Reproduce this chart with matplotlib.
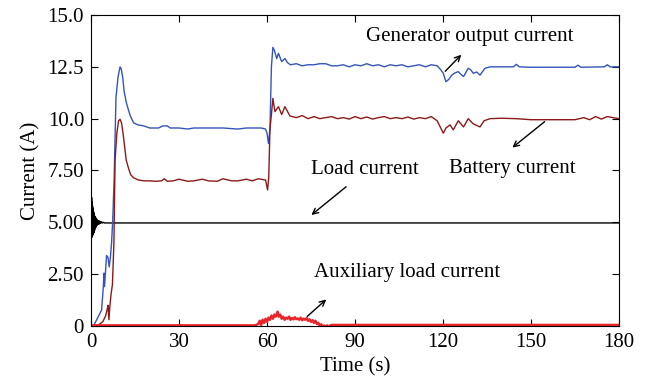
import numpy as np
import matplotlib
matplotlib.use("Agg")
import matplotlib.pyplot as plt

plt.rcParams['font.family'] = ['Liberation Serif', 'DejaVu Serif']

# generator output current (blue)
gen_t = [0, 1, 1.9, 3, 3.6, 4.2, 4.4, 4.6, 5.3, 5.8, 6.2, 6.6, 7.0, 7.4, 7.9, 8.5, 9.2, 9.9,
         10.3, 10.8, 11.3, 12, 12.8, 13.5, 14.5, 16, 18, 20, 23, 24.5, 26, 27, 30, 33, 35, 40,
         45, 50, 53, 55, 58, 59.5, 60, 60.5, 61, 61.5, 62, 62.5, 63.3, 63.9, 65, 66.1, 67,
         68, 70, 72, 74, 76, 78, 80, 82, 84, 86, 88, 90, 92, 94, 96, 98, 100, 102, 104, 106,
         108, 110, 112, 114, 116, 118, 119, 120.1, 121, 122, 123, 124, 125.2, 126, 127, 128.6,
         129.5, 130.3, 131.5, 132.6, 134.3, 136, 140, 144, 145, 146, 150, 160, 165, 166, 167,
         175, 176, 177, 180]
gen_i = [0, 0.05, 0.29, 0.6, 0.77, 1.9, 2.55, 1.9, 3.4, 3.3, 2.85, 3.3, 4.0, 5.1, 7.2, 11.0,
         12.0, 12.5, 12.4, 12.0, 11.3, 10.8, 10.4, 10.1, 9.8, 9.7, 9.65, 9.55, 9.55, 9.65, 9.65,
         9.55, 9.55, 9.5, 9.55, 9.55, 9.55, 9.5, 9.55, 9.55, 9.55, 9.5, 9.3, 8.8, 9.5, 12.5,
         13.44, 13.3, 12.9, 13.15, 12.75, 12.9, 12.7, 12.6, 12.65, 12.55, 12.6, 12.6, 12.65,
         12.65, 12.55, 12.55, 12.6, 12.5, 12.6, 12.55, 12.65, 12.55, 12.6, 12.5, 12.6, 12.55,
         12.6, 12.5, 12.55, 12.6, 12.5, 12.6, 12.55, 12.4, 12.19, 11.78, 11.9, 12.1, 12.2, 12.27,
         12.15, 12.03, 12.43, 12.35, 12.19, 12.25, 12.1, 12.43, 12.5, 12.5, 12.5, 12.62, 12.5,
         12.48, 12.48, 12.48, 12.58, 12.48, 12.5, 12.6, 12.5, 12.5]

# battery current (dark red)
bat_t = [0, 1, 2, 3, 4, 5, 5.5, 5.8, 6.1, 6.4, 6.8, 7.3, 7.8, 8.2, 8.8, 9.4, 9.9, 10.4, 11,
         11.5, 12, 12.8, 13.5, 14.5, 16, 18, 20, 22, 24, 25, 26, 28, 30, 33, 35, 38, 40, 43,
         45, 48, 50, 53, 55, 57, 59.5, 60.2, 60.6, 61, 61.5, 62, 62.7, 63.9, 65, 66.1, 67.8,
         70, 72, 74, 76, 78, 80, 82, 84, 86, 88, 90, 92, 94, 96, 98, 100, 102, 104, 106, 108,
         110, 112, 114, 116, 118, 120.1, 121, 122.4, 123.5, 125.2, 127, 128.6, 130.3, 132.6,
         134, 136, 140, 145, 150, 155, 160, 165, 168, 170, 172, 174, 176, 178, 180]
bat_i = [0, 0, 0.02, 0.1, 0.2, 0.5, 0.8, 1.0, 0.3, 0.9, 1.5, 2.0, 4.0, 8.0, 9.3, 9.9, 9.97,
         9.8, 9.2, 8.6, 8.0, 7.6, 7.3, 7.15, 7.05, 7.0, 7.0, 6.98, 7.0, 7.1, 6.98, 7.0, 7.08,
         6.98, 7.0, 7.08, 7.0, 6.98, 7.1, 7.0, 7.0, 7.08, 7.0, 7.1, 7.04, 6.56, 7.2, 9.5, 10.2,
         10.98, 10.34, 10.58, 10.2, 10.58, 10.13, 10.05, 10.15, 10.0, 10.1, 10.0, 10.05, 10.1,
         10.0, 10.05, 9.98, 10.1, 10.0, 10.08, 9.98, 10.05, 10.1, 10.0, 10.05, 10.0, 10.08,
         9.98, 10.05, 10.0, 10.1, 9.9, 9.3, 9.55, 9.7, 9.46, 9.9, 9.6, 10.0, 9.75, 9.6, 9.9,
         10.0, 10.02, 10.0, 9.95, 9.95, 9.95, 9.95, 10.05, 9.95, 10.1, 9.98, 10.1, 10.05, 10.0]

# load current (black)
load_t = [0, 0.05, 0.1, 0.15, 0.2, 0.25, 0.3, 0.35, 0.4, 0.45, 0.5, 0.55, 0.6, 0.65, 0.7,
          0.8, 0.9, 1.0, 1.1, 1.2, 1.3, 1.4, 1.5, 1.6, 1.7, 1.8, 1.9, 2.0, 2.2, 2.4, 2.6, 2.8,
          3.0, 3.3, 3.6, 3.9, 4.2, 4.6, 5.0, 180]
load_i = [6.8, 4.4, 6.5, 4.5, 6.2, 4.4, 6.0, 4.3, 5.9, 4.3, 5.8, 4.4, 5.7, 4.4, 5.6, 4.5,
          5.5, 4.5, 5.4, 4.6, 5.3, 4.7, 5.25, 4.75, 5.2, 4.8, 5.15, 4.85, 5.1, 4.9, 5.08, 4.92,
          5.05, 4.95, 5.03, 4.97, 5.0, 4.97, 4.97, 4.97]

# auxiliary load current (bright red)
aux_t = [0, 56, 57, 57.5, 58, 58.5, 59, 59.5, 60, 60.5, 61, 61.5, 62, 62.5, 63, 63.6, 64,
         64.5, 65, 65.5, 66, 66.5, 67, 67.5, 68, 68.5, 69, 69.5, 70, 70.5, 71, 71.5, 72, 72.5,
         73, 73.5, 74, 74.5, 75, 75.5, 76, 76.5, 77, 77.5, 78, 78.5, 79, 79.5, 80, 80.5, 81,
         81.5, 82, 180]
aux_i = [0.03, 0.03, 0.1, 0.25, 0.05, 0.3, 0.15, 0.35, 0.2, 0.4, 0.3, 0.5, 0.35, 0.55,
         0.45, 0.69, 0.45, 0.55, 0.35, 0.45, 0.3, 0.4, 0.35, 0.45, 0.3, 0.38, 0.32, 0.42,
         0.33, 0.36, 0.3, 0.4, 0.28, 0.35, 0.3, 0.38, 0.25, 0.32, 0.2, 0.28, 0.15, 0.25, 0.1,
         0.15, 0.0, 0.08, -0.05, 0.02, -0.03, 0.03, -0.04, 0.02, 0.05, 0.05]

y_ticks = [0, 2.5, 5, 7.5, 10, 12.5, 15]
y_labels = ['0', '2.50', '5.00', '7.50', '10.0', '12.5', '15.0']
x_ticks = [0, 30, 60, 90, 120, 150, 180]

fig = plt.figure(figsize=(6.46, 3.78), dpi=100)
ax = fig.add_axes([0.1409, 0.1376, 0.8173, 0.8227])

ax.plot(load_t, load_i, color='black', lw=1.0)
ax.plot(gen_t, gen_i, color='#3355bb', lw=1.0)
ax.plot(bat_t, bat_i, color='#8b1a1a', lw=1.0)
ax.plot(aux_t, aux_i, color='#e8262a', lw=1.8)

ax.set_xlim(0, 180)
ax.set_ylim(0, 15)
ax.set_xticks(x_ticks)
ax.set_yticks(y_ticks)
ax.set_yticklabels(y_labels)
ax.tick_params(direction='in', top=True, right=True, labelsize=15, length=5, pad=5)
ax.set_xlabel('Time (s)', fontsize=15, labelpad=4)
ax.set_ylabel('Current (A)', fontsize=15, labelpad=5)

arrow = dict(arrowstyle='->', color='black', lw=1.0)
fs = 15
ax.text(129.2, 13.94, 'Generator output current', fontsize=fs, ha='center', va='center')
ax.annotate('', xy=(126.9, 13.18), xytext=(120.1, 12.19), arrowprops=arrow)
ax.text(143.5, 7.62, 'Battery current', fontsize=fs, ha='center', va='center')
ax.annotate('', xy=(142.9, 8.52), xytext=(155.4, 9.94), arrowprops=arrow)
ax.text(93.4, 7.57, 'Load current', fontsize=fs, ha='center', va='center')
ax.annotate('', xy=(74.4, 5.27), xytext=(87.7, 6.8), arrowprops=arrow)
ax.text(107.7, 2.56, 'Auxiliary load current', fontsize=fs, ha='center', va='center')
ax.annotate('', xy=(80.9, 1.37), xytext=(73.0, 0.37), arrowprops=arrow)

fig.savefig('out.png', dpi=100)
